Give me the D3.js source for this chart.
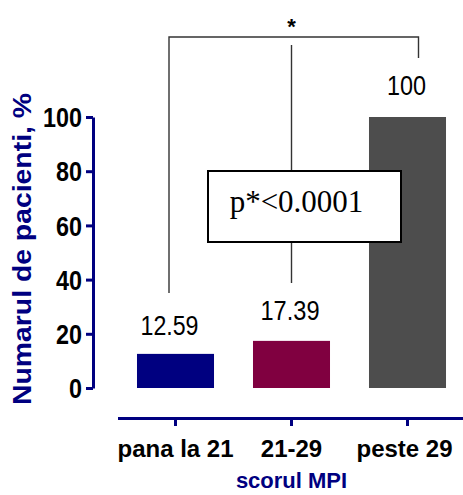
<!DOCTYPE html>
<html>
<head>
<meta charset="utf-8">
<script src="https://cdn.jsdelivr.net/npm/d3@7"></script>
<style>
  html, body { margin: 0; padding: 0; background: #fff; }
  svg { display: block; }
</style>
</head>
<body>
<svg id="chart" width="463" height="495"></svg>
<script>
// ---- data ----
const categories = ["pana la 21", "21-29", "peste 29"];
const values = [12.59, 17.39, 100];
const valueLabels = ["12.59", "17.39", "100"];
const barColors = ["#000080", "#800040", "#4d4d4d"];
const yTicks = [0, 20, 40, 60, 80, 100];
const yTitle = "Numarul de pacienti, %";
const xTitle = "scorul MPI";
const pText = "p*<0.0001";
const sigMark = "*";

const svg = d3.select("#chart");
const NAVY = "#000080";
const sans = "'Liberation Sans', Arial, Helvetica, sans-serif";

const y = d3.scaleLinear().domain([0, 100]).range([388, 117]);
const x = d3.scaleBand().domain(categories).range([117.5, 465.5]).paddingInner(0.336).paddingOuter(0.168);
const cx = c => x(c) + x.bandwidth() / 2;

// bars
svg.append("g").selectAll("rect").data(values).join("rect")
  .attr("x", (d, i) => x(categories[i]))
  .attr("y", d => y(d))
  .attr("width", x.bandwidth())
  .attr("height", d => y(0) - y(d))
  .attr("fill", (d, i) => barColors[i]);

// value labels
svg.append("g").selectAll("text").data(values).join("text")
  .attr("x", (d, i) => cx(categories[i]) - [6, 1.5, 1][i])
  .attr("y", (d, i) => y(d) - [19, 21, 22][i])
  .attr("text-anchor", "middle")
  .attr("font-family", sans)
  .attr("font-size", 28)
  .attr("fill", "#000")
  .text((d, i) => valueLabels[i])
  .each(function(d, i) { d3.select(this).attr("textLength", [58, 59, 39][i]).attr("lengthAdjust", "spacingAndGlyphs"); });

// y axis
const yAxis = svg.append("g").attr("transform", "translate(93,0)")
  .call(d3.axisLeft(y).tickValues(yTicks).tickSize(7).tickSizeOuter(0).tickPadding(4));
yAxis.select(".domain").attr("stroke", NAVY).attr("stroke-width", 3);
yAxis.selectAll(".tick line").attr("stroke", NAVY).attr("stroke-width", 3);
yAxis.selectAll(".tick text")
  .attr("font-family", sans).attr("font-weight", "bold").attr("font-size", 27)
  .attr("fill", "#000").attr("dy", "0.36em")
  .each(function(d) {
    const s = String(d);
    d3.select(this).attr("textLength", s.length * 13).attr("lengthAdjust", "spacingAndGlyphs");
  });

// x axis
const xAxis = svg.append("g").attr("transform", "translate(0,418)")
  .call(d3.axisBottom(x).tickSize(8).tickSizeOuter(0).tickPadding(0));
xAxis.select(".domain").attr("stroke", NAVY).attr("stroke-width", 3);
xAxis.selectAll(".tick line").attr("stroke", NAVY).attr("stroke-width", 3);
xAxis.selectAll(".tick text")
  .attr("font-family", sans).attr("font-weight", "bold").attr("font-size", 24)
  .attr("fill", "#000").attr("y", 39).attr("dy", 0)
  .attr("dx", (d, i) => [0, 0, -3][i]);

// axis titles
svg.append("text")
  .attr("transform", "translate(31,249) rotate(-90)")
  .attr("text-anchor", "middle")
  .attr("font-family", sans).attr("font-weight", "bold").attr("font-size", 26)
  .attr("fill", NAVY)
  .attr("textLength", 312).attr("lengthAdjust", "spacingAndGlyphs")
  .text(yTitle);

svg.append("text")
  .attr("x", cx(categories[1])).attr("y", 488)
  .attr("text-anchor", "middle")
  .attr("font-family", sans).attr("font-weight", "bold").attr("font-size", 22)
  .attr("fill", NAVY)
  .text(xTitle);

// significance bracket
const xl = cx(categories[0]) - 6.5, xm = cx(categories[1]), xr = cx(categories[2]) + 11;
const topY = 37;
const br = svg.append("g").attr("fill", "none").attr("stroke", "#333").attr("stroke-width", 1.4);
br.append("path").attr("d", `M${xl},293 V${topY} H${xr} V58`);
br.append("line").attr("x1", xm).attr("x2", xm).attr("y1", 45).attr("y2", 283);

svg.append("text")
  .attr("x", xm).attr("y", 34)
  .attr("text-anchor", "middle")
  .attr("font-family", sans).attr("font-size", 22).attr("font-weight", "bold")
  .attr("fill", "#000")
  .text(sigMark);

// p-value box
svg.append("rect")
  .attr("x", 208).attr("y", 171).attr("width", 193).attr("height", 71)
  .attr("fill", "#fff").attr("stroke", "#000").attr("stroke-width", 2);
svg.append("text")
  .attr("x", 296.5).attr("y", 212)
  .attr("text-anchor", "middle")
  .attr("font-family", "'Liberation Serif', 'Times New Roman', serif")
  .attr("font-size", 31)
  .attr("fill", "#000")
  .text(pText);
</script>
</body>
</html>
